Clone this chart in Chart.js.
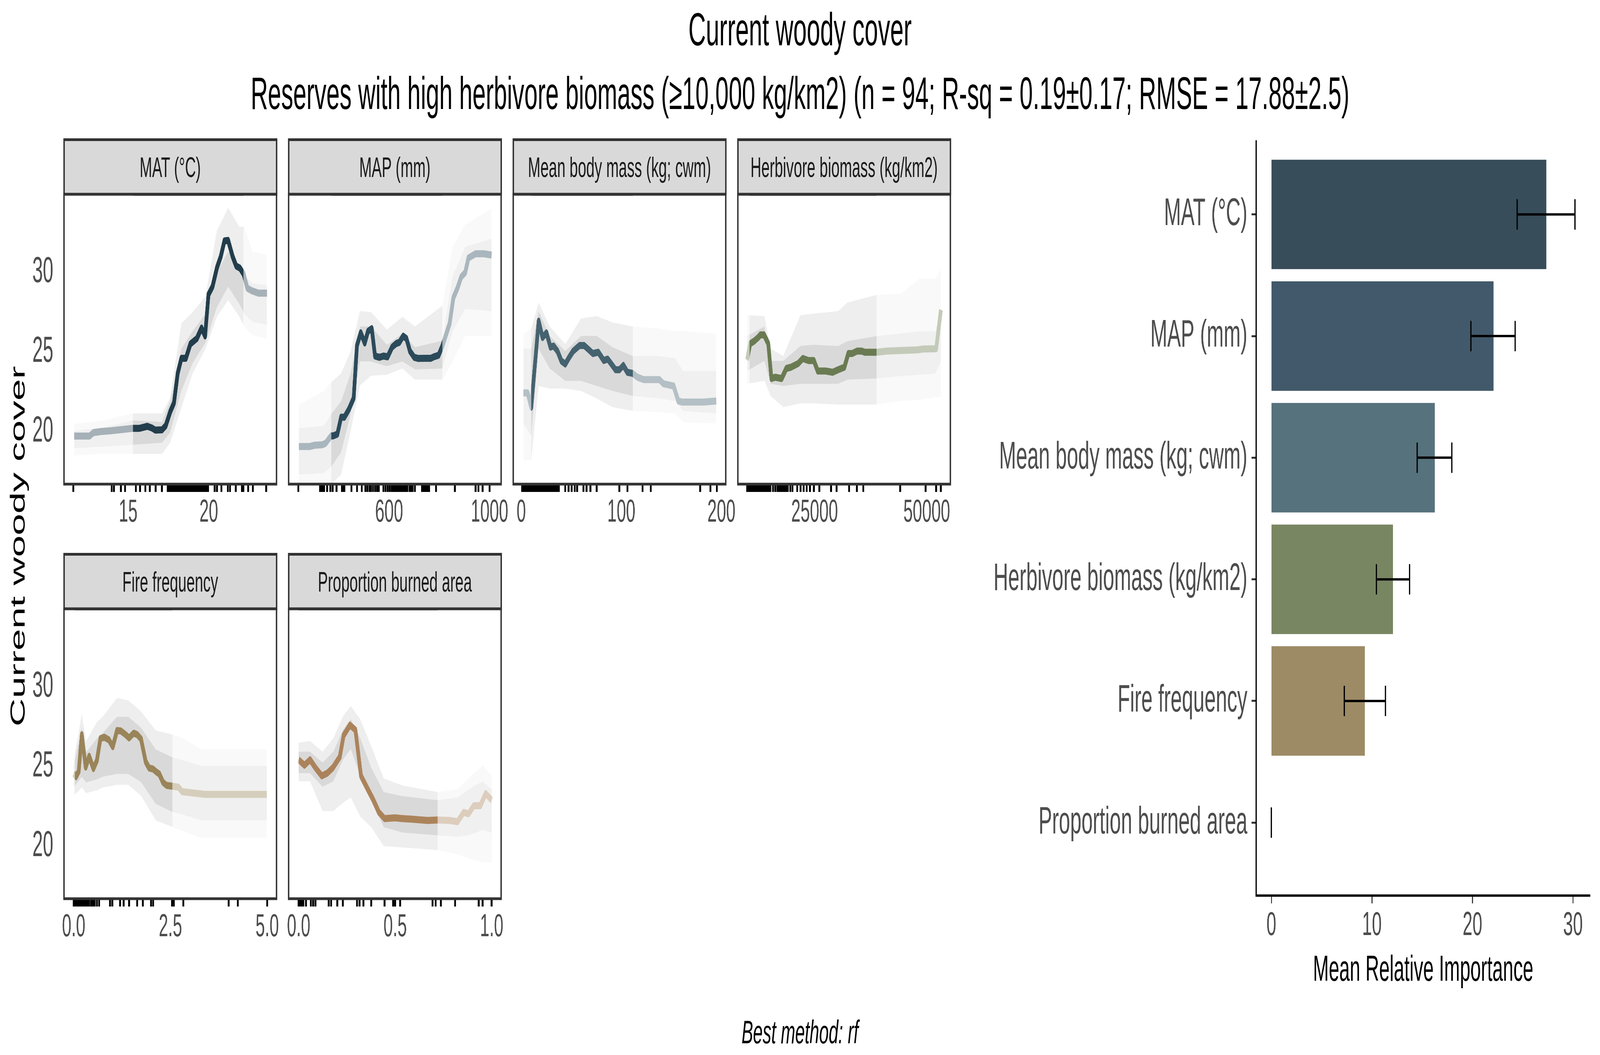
<!DOCTYPE html>
<html>
<head>
<meta charset="utf-8">
<script src="https://cdn.jsdelivr.net/npm/chart.js@4.4.1/dist/chart.umd.min.js"></script>
<style>
  html, body { margin: 0; padding: 0; width: 100%; height: 100%; overflow: hidden; background: #fff; }
  #page { position: absolute; left: 0; top: 0; width: 7800px; height: 2700px; transform-origin: 0 0; background: #fff;
          font-family: "Liberation Sans", Arial, Helvetica, sans-serif; }
  canvas { position: absolute; }
  .title { position: absolute; left: 0; width: 7800px; text-align: center; color: #000; white-space: nowrap; line-height: 1; }
  .strip { position: absolute; box-sizing: border-box; background: #d9d9d9; border: 7px solid #333;
           color: #1a1a1a; font-size: 73px; display: flex; align-items: center; justify-content: center; white-space: nowrap; }
  #ytitle { position: absolute; left: -515px; top: 1348px; width: 1200px; height: 100px; line-height: 100px;
            font-size: 100px; text-align: center; transform: rotate(-90deg); color: #000; white-space: nowrap; }
</style>
</head>
<body>
<div id="page">
<div class="title" style="top:16px;font-size:118px">Current woody cover</div>
<div class="title" style="top:181px;font-size:116.5px">Reserves with high herbivore biomass (≥10,000 kg/km2) (n = 94; R-sq = 0.19±0.17; RMSE = 17.88±2.5)</div>
<div id="ytitle">Current woody cover</div>
<div class="title" style="top:2599px;font-size:84px;font-style:italic">Best method: rf</div>
<canvas id="bars" width="3100" height="2260" style="left:4700px;top:300px;width:3100px;height:2260px"></canvas>
</div>
<script>
// fit the 7800x2700 layout to whatever viewport we get
const page = document.getElementById('page');
const sx = document.documentElement.clientWidth / 7800;
const sy = document.documentElement.clientHeight / 2700;
page.style.transform = 'scale(' + sx + ',' + sy + ')';

// ---- partial dependence panels ----
const yTicks = [20, 25, 30];

// MAT (°C)
const matX = [11.65, 12.61, 12.84, 13.3, 13.86, 15.28, 15.68, 16.19, 16.48, 16.68, 17.1, 17.33, 17.61, 17.84, 18.07, 18.3, 18.58, 18.86, 19.26, 19.55, 19.77, 19.98, 20.23, 20.51, 20.74, 20.97, 21.2, 21.48, 21.7, 21.93, 22.16, 22.39, 22.67, 23.07, 23.61];
const matY = [19.72, 19.72, 19.93, 20.0, 20.04, 20.2, 20.2, 20.33, 20.22, 20.09, 20.11, 20.37, 21.25, 21.8, 23.65, 24.6, 24.6, 25.5, 25.84, 26.5, 26.0, 28.6, 29.1, 30.3, 30.98, 31.97, 32.0, 30.98, 30.39, 30.26, 29.89, 29.0, 28.84, 28.69, 28.69];
const matBandX = [11.65, 13.5, 15.3, 17.1, 17.6, 18.3, 19.0, 19.8, 20.5, 21.2, 21.9, 22.2, 22.7, 23.6];
const matOuterHi = [20.48, 20.7, 21.14, 21.14, 22.1, 26.8, 27.5, 28.5, 32.6, 34.05, 32.85, 32.85, 31.3, 31.1];
const matOuterLo = [18.5, 18.6, 18.6, 18.6, 19.3, 21.5, 23.65, 25.2, 27.2, 28.25, 27.2, 26.6, 26.06, 25.84];
const matInnerHi = [20.04, 20.26, 20.7, 20.6, 21.9, 25.2, 26.3, 27.4, 30.0, 31.3, 30.4, 29.8, 29.3, 29.2];
const matInnerLo = [18.95, 19.06, 19.17, 19.3, 19.93, 22.56, 24.3, 25.6, 27.8, 29.1, 28.0, 27.4, 26.9, 26.7];
const matRug = [11.6, 13.98, 14.12, 14.55, 14.8, 15.48, 15.73, 16.07, 16.34, 16.7, 17.09, 17.45, 17.55, 17.65, 17.75, 17.85, 17.95, 18.05, 18.15, 18.25, 18.35, 18.45, 18.55, 18.65, 18.75, 18.85, 18.95, 19.05, 19.15, 19.25, 19.35, 19.45, 19.55, 19.65, 19.75, 19.85, 19.96, 20.36, 20.5, 20.79, 21.18, 21.32, 21.67, 22.05, 22.15, 22.44, 22.73, 23.56];
const matTicks = [15, 20];

// MAP (mm)
const mapX = [241, 284, 303, 334, 347, 362, 369, 378, 394, 409, 422, 440, 459, 472, 487, 503, 516, 531, 544, 562, 578, 594, 612, 628, 641, 656, 669, 683, 700, 716, 741, 766, 778, 797, 812, 828, 841, 856, 872, 887, 903, 916, 944, 978, 1008];
const mapY = [19.06, 19.06, 19.14, 19.17, 19.26, 19.58, 19.73, 19.73, 19.84, 20.9, 20.9, 21.4, 22.1, 25.4, 26.2, 25.56, 26.3, 26.46, 24.74, 24.66, 24.74, 24.69, 25.3, 25.52, 25.6, 25.99, 25.84, 25.05, 24.66, 24.59, 24.6, 24.6, 24.69, 24.79, 25.37, 26.15, 26.78, 28.4, 29.0, 29.7, 29.98, 30.9, 31.16, 31.16, 31.08];
const mapBandX = [241, 341, 370, 409, 447, 484, 528, 591, 653, 703, 812, 853, 903, 1008];
const mapOuterHi = [21.69, 22.55, 23.1, 23.65, 25.05, 27.56, 27.5, 26.4, 27.2, 26.6, 27.9, 31.6, 33.0, 34.0];
const mapOuterLo = [16.5, 16.54, 16.7, 17.3, 20.05, 22.9, 23.5, 23.57, 23.96, 23.26, 23.26, 24.4, 26.0, 26.0];
const mapInnerHi = [20.2, 20.36, 21.1, 21.9, 23.65, 26.6, 26.6, 25.45, 26.15, 25.3, 25.7, 29.75, 31.6, 32.1];
const mapInnerLo = [17.3, 17.4, 17.8, 18.7, 21.1, 24.4, 24.4, 24.1, 24.4, 23.9, 23.96, 26.3, 27.7, 27.56];
const mapRug = [239, 325, 330, 334, 341, 353, 366, 375, 391, 412, 417, 422, 450, 472, 491, 506, 514, 522, 528, 536, 544, 552, 559, 578, 586, 594, 602, 610, 616, 622, 628, 635, 641, 647, 653, 660, 666, 672, 681, 688, 694, 703, 731, 738, 745, 752, 759, 787, 862, 944, 956, 972, 1000];
const mapTicks = [600, 1000];

// Mean body mass (kg; cwm)
const mbX = [2.2, 6.4, 10.0, 17.4, 21.3, 25.2, 29.2, 32.3, 36.2, 40.1, 44.0, 47.2, 51.9, 58.2, 62.9, 67.6, 71.5, 77.0, 82.4, 86.4, 91.1, 94.2, 98.1, 102.0, 106.0, 111.4, 116.1, 122.4, 138.1, 142.0, 152.2, 156.9, 160.8, 182.0, 194.8];
const mbY = [22.43, 22.43, 21.53, 26.93, 25.9, 26.2, 25.3, 25.37, 25.05, 24.43, 24.24, 24.59, 25.05, 25.4, 25.4, 25.13, 24.9, 24.98, 24.46, 24.55, 24.15, 23.88, 23.88, 24.15, 23.72, 23.65, 23.41, 23.26, 23.26, 23.0, 22.86, 21.92, 21.85, 21.85, 21.92];
const mbBandX = [2.2, 10.0, 17.4, 28.4, 44.0, 59.7, 75.4, 91.1, 111.4, 138.1, 153.8, 161.6, 194.8];
const mbOuterHi = [26.15, 26.46, 28.1, 26.6, 25.5, 27.1, 27.25, 26.85, 26.6, 26.46, 26.3, 26.3, 26.15];
const mbOuterLo = [18.2, 18.2, 22.86, 22.7, 22.7, 22.55, 22.08, 21.53, 21.3, 21.22, 21.14, 20.6, 20.5];
const mbInnerHi = [25.2, 25.2, 27.56, 26.0, 25.05, 26.0, 26.0, 25.3, 24.74, 24.74, 24.6, 23.8, 23.8];
const mbInnerLo = [20.5, 19.73, 25.2, 23.96, 23.18, 23.18, 22.86, 22.55, 22.24, 22.08, 21.92, 21.3, 21.14];
const mbRug = [1, 2, 3, 4, 5, 6, 7, 8, 9, 10, 11, 12, 13, 14, 15, 16, 17, 18, 19, 20, 21, 22, 23, 24, 25, 26, 27, 28, 29, 30, 31, 32, 33, 34, 35, 36, 37.5, 44, 47.2, 50.3, 53.4, 55.8, 62.1, 65.2, 69.1, 75.4, 98.1, 106, 121.3, 129.5, 178.8, 189, 195.3];
const mbTicks = [0, 100, 200];

// Herbivore biomass (kg/km2)
const hbX = [9962, 10660, 11540, 12410, 12935, 13740, 14680, 15380, 16260, 17660, 18700, 19750, 21330, 22380, 23600, 24830, 25700, 27450, 29020, 30250, 31640, 32520, 33390, 34440, 35490, 36190, 38810, 41080, 48080, 49130, 52100, 53150];
const hbY = [24.5, 25.52, 25.68, 25.9, 26.07, 26.07, 25.52, 23.33, 23.41, 23.33, 23.96, 24.04, 24.27, 24.59, 24.46, 24.46, 23.8, 23.8, 23.72, 23.88, 24.04, 24.9, 24.9, 25.05, 25.05, 24.98, 24.98, 25.05, 25.13, 25.18, 25.2, 27.64];
const hbBandX = [9962, 13810, 15210, 18010, 21850, 24650, 30250, 32350, 38810, 44230, 48420, 51920, 53150];
const hbOuterHi = [27.3, 27.25, 25.2, 24.74, 27.3, 27.4, 27.56, 28.1, 28.58, 28.65, 29.6, 29.6, 30.2];
const hbOuterLo = [23.0, 23.18, 22.24, 21.53, 21.77, 21.77, 21.69, 21.69, 21.69, 21.92, 22.0, 22.16, 22.16];
const hbInnerHi = [25.99, 26.6, 24.43, 24.43, 25.37, 25.45, 25.37, 25.68, 25.99, 26.15, 26.3, 26.3, 27.56];
const hbInnerLo = [23.8, 24.43, 23.0, 22.86, 23.0, 23.0, 23.0, 23.26, 23.33, 23.49, 23.57, 23.64, 24.43];
const hbRug = [9960, 10350, 10750, 11150, 11550, 11950, 12350, 12750, 13150, 13550, 13950, 14350, 14750, 15150, 15730, 16260, 16700, 17100, 17480, 17830, 18250, 18650, 19050, 19580, 20100, 21150, 21850, 22550, 23250, 23950, 24830, 26050, 28670, 29900, 32690, 34440, 35840, 44060, 49760, 52100, 53150];
const hbTicks = [25000, 50000];

// Fire frequency
const ffX = [0, 0.06, 0.13, 0.21, 0.31, 0.40, 0.51, 0.6, 0.69, 0.79, 0.91, 1.01, 1.12, 1.22, 1.34, 1.43, 1.55, 1.64, 1.74, 1.86, 1.95, 2.05, 2.14, 2.21, 2.31, 2.4, 2.56, 2.71, 2.8, 3.11, 3.39, 4.24, 4.99];
const ffY = [24.56, 24.36, 24.7, 27.0, 24.96, 25.64, 24.87, 25.38, 26.75, 26.84, 26.67, 26.24, 27.26, 27.23, 27.0, 26.79, 27.09, 27.0, 26.72, 25.3, 24.9, 24.84, 24.65, 24.53, 24.0, 23.81, 23.76, 23.7, 23.42, 23.33, 23.25, 23.25, 23.25];
const ffBandX = [0, 0.21, 0.32, 0.6, 0.75, 1.12, 1.41, 1.74, 2.12, 2.56, 2.83, 3.3, 4.99];
const ffOuterHi = [25.38, 28.29, 26.58, 27.78, 28.12, 29.3, 29.15, 28.46, 27.26, 27.0, 26.75, 26.07, 26.07];
const ffOuterLo = [23.16, 23.68, 23.33, 23.5, 23.68, 23.85, 23.85, 23.16, 21.62, 21.2, 20.94, 20.5, 20.5];
const ffInnerHi = [25.04, 27.44, 25.9, 26.75, 27.1, 28.12, 28.12, 27.44, 26.07, 25.56, 25.38, 25.04, 25.04];
const ffInnerLo = [23.68, 24.36, 24.0, 24.19, 24.36, 24.53, 24.53, 24.02, 22.65, 22.14, 21.97, 21.62, 21.62];
const ffRug = [0, 0.03, 0.06, 0.09, 0.12, 0.15, 0.18, 0.21, 0.24, 0.27, 0.3, 0.33, 0.36, 0.4, 0.45, 0.5, 0.54, 0.6, 0.66, 0.94, 1.0, 1.2, 1.29, 1.43, 1.64, 1.79, 2.0, 2.05, 2.54, 2.59, 2.83, 4.0, 4.24, 5.0];
const ffTicks = [0, 2.5, 5];

// Proportion burned area
const pbX = [0, 0.03, 0.059, 0.087, 0.12, 0.148, 0.177, 0.213, 0.233, 0.266, 0.294, 0.323, 0.355, 0.384, 0.416, 0.445, 0.498, 0.538, 0.587, 0.668, 0.721, 0.782, 0.823, 0.855, 0.88, 0.908, 0.941, 0.969, 1.0];
const pbY = [25.42, 25.08, 25.42, 24.92, 24.41, 24.58, 24.92, 25.6, 26.95, 27.6, 27.29, 24.41, 23.64, 22.97, 22.12, 21.73, 21.78, 21.73, 21.69, 21.61, 21.64, 21.61, 21.53, 22.12, 22.03, 22.54, 22.54, 23.3, 22.88];
const pbBandX = [0, 0.059, 0.124, 0.18, 0.229, 0.27, 0.319, 0.376, 0.441, 0.538, 0.721, 0.823, 0.88, 0.953, 1.0];
const pbOuterHi = [26.5, 26.6, 25.93, 26.78, 28.14, 28.8, 27.97, 26.27, 24.24, 23.81, 23.39, 23.56, 24.24, 25.08, 24.41];
const pbOuterLo = [24.07, 24.07, 22.2, 22.2, 22.71, 23.05, 21.86, 21.19, 20.0, 19.92, 19.75, 19.49, 19.24, 18.98, 18.98];
const pbInnerHi = [25.93, 25.93, 25.25, 25.93, 27.29, 27.97, 26.78, 24.92, 23.39, 23.14, 22.88, 23.05, 23.56, 24.07, 23.56];
const pbInnerLo = [24.58, 24.58, 23.73, 24.07, 25.42, 26.1, 24.41, 22.88, 21.19, 20.85, 20.68, 20.59, 20.68, 21.02, 20.85];
const pbRug = [0, 0.008, 0.016, 0.024, 0.038, 0.063, 0.075, 0.087, 0.156, 0.168, 0.2, 0.229, 0.302, 0.315, 0.335, 0.376, 0.445, 0.489, 0.5, 0.526, 0.693, 0.709, 0.737, 0.81, 0.933, 0.953, 1.0];
const pbTicks = [0, 0.5, 1];

// ---- variable importance ----
const categories = ['MAT (°C)', 'MAP (mm)', 'Mean body mass (kg; cwm)', 'Herbivore biomass (kg/km2)', 'Fire frequency', 'Proportion burned area'];
const importance = [27.35, 22.1, 16.25, 12.1, 9.3, 0];
const errLow = [24.45, 19.85, 14.5, 10.45, 7.25, 0];
const errHigh = [30.2, 24.25, 17.95, 13.75, 11.35, 0];
const barColors = ['#374d5a', '#41596a', '#56727d', '#788662', '#9d8b66', '#a98760'];
const barTicks = [0, 10, 20, 30];

Chart.defaults.font.family = '"Liberation Sans", Arial, Helvetica, sans-serif';
Chart.defaults.devicePixelRatio = 1;

function pts(xs, ys) {
  return xs.map((x, i) => ({ x: x, y: ys[i] }));
}

// keep Chart.js from nudging the plot area for overhanging labels
function noPad(s) {
  s.paddingTop = 0; s.paddingBottom = 0; s.paddingLeft = 0; s.paddingRight = 0;
}

// lighten everything outside the well-sampled range
const shadePlugin = {
  id: 'shade',
  afterDatasetsDraw(chart, args, opts) {
    const { ctx, chartArea: a, scales: { x } } = chart;
    const lo = Math.max(a.left, x.getPixelForValue(opts.lo));
    const hi = Math.min(a.right, x.getPixelForValue(opts.hi));
    ctx.save();
    ctx.fillStyle = 'rgba(255,255,255,0.6)';
    ctx.fillRect(a.left, a.top, lo - a.left, a.bottom - a.top);
    ctx.fillRect(hi, a.top, a.right - hi, a.bottom - a.top);
    ctx.restore();
  }
};

const boxPlugin = {
  id: 'box',
  afterDraw(chart) {
    const { ctx, chartArea: a } = chart;
    ctx.save();
    ctx.strokeStyle = '#333';
    ctx.lineWidth = 7;
    ctx.strokeRect(a.left, a.top, a.right - a.left, a.bottom - a.top);
    ctx.restore();
  }
};

const panels = [
  { title: 'MAT (°C)', left: 312, top: 497, x: matX, y: matY, bx: matBandX, oh: matOuterHi, ol: matOuterLo, ih: matInnerHi, il: matInnerLo,
    rug: matRug, ticks: matTicks, dec: 0, min: 11.02, max: 24.2, lo: 15.3, hi: 22.15, color: '#223d4b', showY: true },
  { title: 'MAP (mm)', left: 1407, top: 497, x: mapX, y: mapY, bx: mapBandX, oh: mapOuterHi, ol: mapOuterLo, ih: mapInnerHi, il: mapInnerLo,
    rug: mapRug, ticks: mapTicks, dec: 0, min: 200, max: 1046, lo: 370, hi: 812, color: '#2b4a5a', showY: false },
  { title: 'Mean body mass (kg; cwm)', left: 2502, top: 497, x: mbX, y: mbY, bx: mbBandX, oh: mbOuterHi, ol: mbOuterLo, ih: mbInnerHi, il: mbInnerLo,
    rug: mbRug, ticks: mbTicks, dec: 0, min: -8, max: 204.3, lo: 10, hi: 111.5, color: '#45626f', showY: false },
  { title: 'Herbivore biomass (kg/km2)', left: 3597, top: 497, x: hbX, y: hbY, bx: hbBandX, oh: hbOuterHi, ol: hbOuterLo, ih: hbInnerHi, il: hbInnerLo,
    rug: hbRug, ticks: hbTicks, dec: 0, min: 7900, max: 55260, lo: 10500, hi: 38800, color: '#6a7b52', showY: false },
  { title: 'Fire frequency', left: 312, top: 1558, x: ffX, y: ffY, bx: ffBandX, oh: ffOuterHi, ol: ffOuterLo, ih: ffInnerHi, il: ffInnerLo,
    rug: ffRug, ticks: ffTicks, dec: 1, min: -0.25, max: 5.24, lo: 0.03, hi: 2.55, color: '#9a8459', showY: true },
  { title: 'Proportion burned area', left: 1407, top: 1558, x: pbX, y: pbY, bx: pbBandX, oh: pbOuterHi, ol: pbOuterLo, ih: pbInnerHi, il: pbInnerLo,
    rug: pbRug, ticks: pbTicks, dec: 1, min: -0.052, max: 1.049, lo: 0, hi: 0.72, color: '#ab835b', showY: false }
];

const PW = 1036, PH = 742, PAD_L = 260, PAD_T = 10, PAD_R = 90, AX_H = 160;

panels.forEach(p => {
  const strip = document.createElement('div');
  strip.className = 'strip';
  strip.textContent = p.title;
  strip.style.left = (p.left - 3.5) + 'px';
  strip.style.top = (p.top - 143) + 'px';
  strip.style.width = (PW + 7) + 'px';
  strip.style.height = '147px';
  page.appendChild(strip);

  const cv = document.createElement('canvas');
  const w = PAD_L + PW + PAD_R, h = PAD_T + PH + AX_H;
  cv.width = w; cv.height = h;
  cv.style.left = (p.left - PAD_L) + 'px';
  cv.style.top = (p.top - PAD_T) + 'px';
  cv.style.width = w + 'px';
  cv.style.height = h + 'px';
  page.appendChild(cv);

  const band = { pointRadius: 0, borderWidth: 0, tension: 0 };
  new Chart(cv, {
    type: 'line',
    data: {
      datasets: [
        { data: pts(p.x, p.y), borderColor: p.color, borderWidth: 18, pointRadius: 0, fill: false,
          borderJoinStyle: 'round', borderCapStyle: 'butt', tension: 0, order: 0 },
        Object.assign({ data: pts(p.bx, p.ol), fill: false, order: 4 }, band),
        Object.assign({ data: pts(p.bx, p.oh), fill: 1, backgroundColor: 'rgba(200,200,200,0.3)', order: 3 }, band),
        Object.assign({ data: pts(p.bx, p.il), fill: false, order: 2 }, band),
        Object.assign({ data: pts(p.bx, p.ih), fill: 3, backgroundColor: 'rgba(170,170,170,0.3)', order: 1 }, band)
      ]
    },
    options: {
      responsive: false,
      animation: false,
      events: [],
      layout: { padding: { top: PAD_T, right: PAD_R, left: 0, bottom: 0 } },
      plugins: { legend: { display: false }, tooltip: { enabled: false }, shade: { lo: p.lo, hi: p.hi } },
      scales: {
        x: {
          type: 'linear', min: p.min, max: p.max,
          afterFit: s => { s.height = AX_H; noPad(s); },
          afterBuildTicks: a => {
            a.ticks = p.rug.map(v => ({ value: v })).concat(p.ticks.map(v => ({ value: v, lab: true })));
          },
          border: { display: false },
          grid: {
            display: true, drawOnChartArea: false, drawTicks: true, tickLength: 20, tickWidth: 9,
            tickColor: c => (c.tick && c.tick.lab) ? 'rgba(0,0,0,0)' : '#000'
          },
          ticks: {
            autoSkip: false, maxRotation: 0, padding: 4, color: '#4d4d4d', font: { size: 82 },
            callback: (v, i, t) => t[i].lab ? v.toFixed(p.dec) : ''
          }
        },
        y: {
          type: 'linear', min: 16.7, max: 34.9,
          afterFit: s => { s.width = PAD_L; noPad(s); },
          afterBuildTicks: a => { a.ticks = yTicks.map(v => ({ value: v })); },
          border: { display: false },
          grid: { display: false },
          ticks: { display: p.showY, padding: 44, color: '#4d4d4d', font: { size: 92 } }
        }
      }
    },
    plugins: [shadePlugin, boxPlugin]
  });
});

// ---- importance bars with error bars ----
const errorBarPlugin = {
  id: 'errbars',
  afterDatasetsDraw(chart) {
    const { ctx, scales: { x, y } } = chart;
    const half = Math.abs(y.getPixelForValue(0.125) - y.getPixelForValue(0));
    ctx.save();
    ctx.strokeStyle = '#000';
    ctx.lineWidth = 6;
    errLow.forEach((lo, i) => {
      const py = y.getPixelForValue(i);
      const x1 = x.getPixelForValue(lo), x2 = x.getPixelForValue(errHigh[i]);
      ctx.beginPath();
      ctx.moveTo(x1, py); ctx.lineTo(x2, py);
      ctx.moveTo(x1, py - half); ctx.lineTo(x1, py + half);
      ctx.moveTo(x2, py - half); ctx.lineTo(x2, py + half);
      ctx.stroke();
    });
    ctx.restore();
  }
};

new Chart(document.getElementById('bars'), {
  type: 'bar',
  data: {
    datasets: [{
      data: importance.map((v, i) => ({ x: v, y: i })),
      backgroundColor: barColors,
      barPercentage: 0.9,
      categoryPercentage: 1
    }]
  },
  options: {
    indexAxis: 'y',
    responsive: false,
    animation: false,
    events: [],
    layout: { padding: { top: 62, right: 48, left: 0, bottom: 0 } },
    plugins: { legend: { display: false }, tooltip: { enabled: false } },
    scales: {
      x: {
        type: 'linear', min: -1.51, max: 31.71,
        afterFit: s => { s.height = 268; noPad(s); },
        afterBuildTicks: a => { a.ticks = barTicks.map(v => ({ value: v })); },
        border: { display: true, color: '#000', width: 6 },
        grid: { display: true, drawOnChartArea: false, drawTicks: true, tickLength: 20, tickWidth: 5, tickColor: '#333' },
        ticks: { padding: 6, color: '#4d4d4d', font: { size: 86 }, maxRotation: 0 },
        title: { display: true, text: 'Mean Relative Importance', color: '#000', font: { size: 92 }, padding: { top: 0, bottom: 20 } }
      },
      y: {
        type: 'linear', min: -0.6, max: 5.6, reverse: true, offset: false,
        afterFit: s => { s.width = 1424; noPad(s); },
        afterBuildTicks: a => { a.ticks = categories.map((c, i) => ({ value: i })); },
        border: { display: true, color: '#000', width: 6 },
        grid: { display: true, offset: false, drawOnChartArea: false, drawTicks: true, tickLength: 23, tickWidth: 5, tickColor: '#333' },
        ticks: { padding: 20, color: '#4d4d4d', font: { size: 99 }, callback: v => categories[Math.round(v)] }
      }
    }
  },
  plugins: [errorBarPlugin]
});
</script>
</body>
</html>
